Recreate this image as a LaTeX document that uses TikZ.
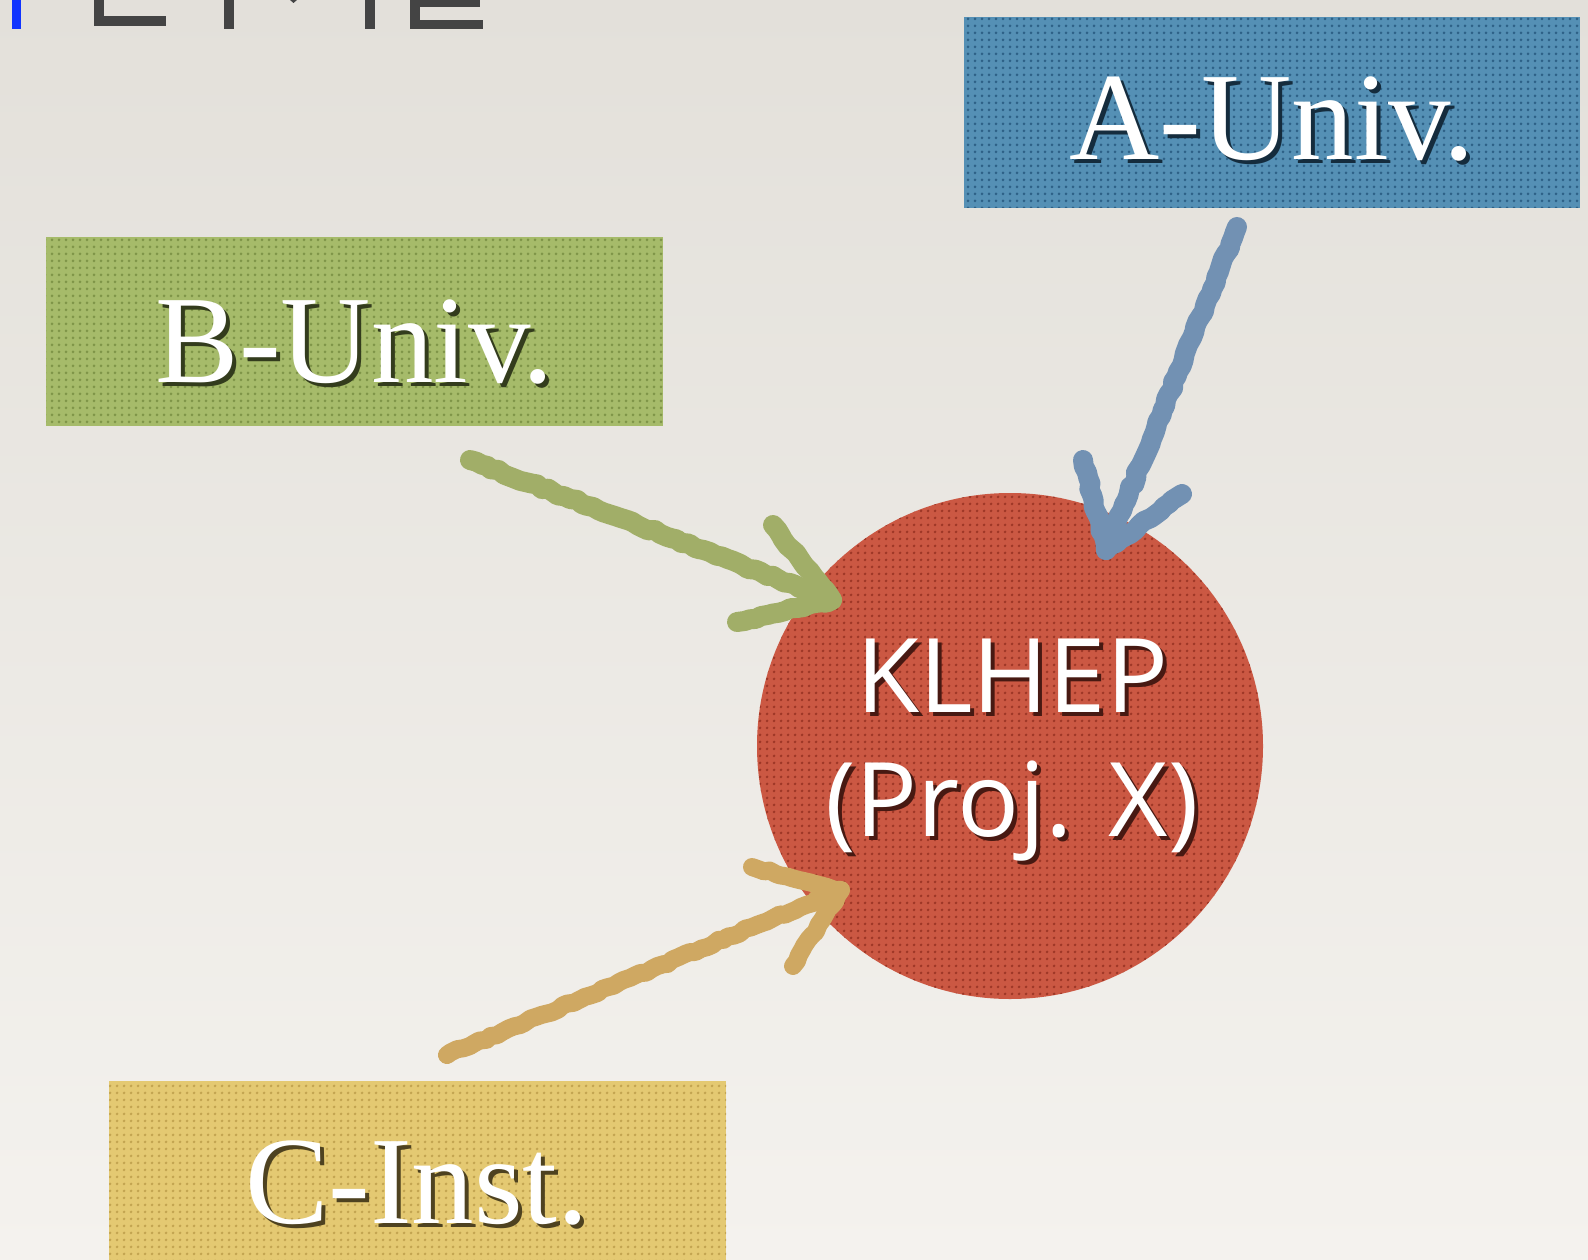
\documentclass[tikz,border=0pt]{standalone}
\usepackage{fontspec}
\setmainfont{Liberation Serif}
\newfontfamily\klfont{Open Sans}
\usetikzlibrary{patterns.meta,decorations.pathmorphing}
\definecolor{bgtop}{HTML}{E3E0DA}
\definecolor{bgbot}{HTML}{F4F2EE}
\definecolor{aFill}{HTML}{5590B5}
\definecolor{aDot}{HTML}{2E6187}
\definecolor{bFill}{HTML}{A6BB6A}
\definecolor{bDot}{HTML}{7F9548}
\definecolor{cFill}{HTML}{E4C972}
\definecolor{cDot}{HTML}{C2A450}
\definecolor{kFill}{HTML}{CB5843}
\definecolor{kDot}{HTML}{9E3727}
\definecolor{aArrow}{HTML}{7291B3}
\definecolor{bArrow}{HTML}{A1AE68}
\definecolor{cArrow}{HTML}{CFA862}
\definecolor{fragGray}{HTML}{444444}
\definecolor{fragBlue}{HTML}{1034FF}
\newcommand{\shadowtext}[2]{\rlap{\hspace{4pt}\raisebox{-4pt}{\color{#1}#2}}#2}
\tikzset{
  ubox/.style={rectangle, inner sep=0pt, outer sep=0pt, draw=none},
  dotfill/.style={pattern={Dots[distance=6.5pt,radius=1.6pt]}, pattern color=#1},
  lbl/.style={anchor=base, inner sep=0pt, text=white, font=\fontsize{125}{125}\selectfont},
  klbl/.style={anchor=base, inner sep=0pt, text=white, font=\klfont\fontsize{103}{103}\selectfont},
  chalk/.style={draw=#1, line width=20pt, line cap=round, line join=round,
    decorate, decoration={random steps, segment length=6pt, amplitude=1.5pt}},
}
\begin{document}
\begin{tikzpicture}[x=1pt,y=-1pt]
\useasboundingbox (0,0) rectangle (1588,1260);
\shade[top color=bgtop, bottom color=bgbot] (0,0) rectangle (1588,1260);

% clipped title fragments at top
\fill[fragBlue] (12,0) rectangle (21,29);
\fill[fragGray] (94,0) rectangle (104,26);
\fill[fragGray] (94,16) rectangle (166,26);
\fill[fragGray] (224,0) rectangle (234,29);
\fill[fragGray] (290,0) -- (297,0) -- (293.5,3) -- cycle;
\fill[fragGray] (365,0) rectangle (375,29);
\fill[fragGray] (410,0) rectangle (420,29);
\fill[fragGray] (410,0) rectangle (480,7);
\fill[fragGray] (410,20) rectangle (483,29);

% boxes
\node[ubox, fill=aFill, minimum width=616pt, minimum height=191pt] (abox) at (1272,112.5) {};
\fill[dotfill=aDot] (abox.south west) rectangle (abox.north east);
\node[ubox, fill=bFill, minimum width=617pt, minimum height=189pt] (bbox) at (354.5,331.5) {};
\fill[dotfill=bDot] (bbox.south west) rectangle (bbox.north east);
\node[ubox, fill=cFill, minimum width=617pt, minimum height=179pt] (cbox) at (417.5,1170.5) {};
\fill[dotfill=cDot] (cbox.south west) rectangle (cbox.north east);

% circle
\node[circle, inner sep=0pt, outer sep=0pt, fill=kFill, minimum size=506pt] (klhep) at (1010,746) {};
\fill[dotfill=kDot] (klhep.center) circle[radius=253];

% box labels
\node[lbl] (atext) at (1272,160) {\shadowtext{aDot!45!black}{A-Univ.}};
\node[lbl] (btext) at (355,382) {\shadowtext{bDot!40!black}{B-Univ.}};
\node[lbl] (ctext) at (417,1223) {\shadowtext{cDot!40!black}{C-Inst.}};

% circle labels
\node[klbl] (k1text) at (1012,712) {\shadowtext{kDot!45!black}{KLHEP}};
\node[klbl] (k2text) at (1012,836) {\shadowtext{kDot!45!black}{(Proj. X)}};

% arrow coordinates
\coordinate (aStart) at (1237,227);
\coordinate (aTip) at (1106,550);
\coordinate (aArmL) at (1083,460);
\coordinate (aArmR) at (1182,494);
\coordinate (bStart) at (470,460);
\coordinate (bTip) at (832,600);
\coordinate (bArmU) at (773,525);
\coordinate (bArmL) at (737,622);
\coordinate (cStart) at (447,1055);
\coordinate (cTip) at (841,890);
\coordinate (cArmU) at (752,867);
\coordinate (cArmL) at (793,966);

% arrows
\draw[chalk=aArrow] (aStart) -- (aTip);
\draw[chalk=aArrow] (aArmL) -- (aTip) -- (aArmR);
\draw[chalk=bArrow] (bStart) -- (bTip);
\draw[chalk=bArrow] (bArmU) -- (bTip) -- (bArmL);
\draw[chalk=cArrow, line width=18pt] (cStart) -- (cTip);
\draw[chalk=cArrow, line width=18pt] (cArmU) -- (cTip) -- (cArmL);
\end{tikzpicture}
\end{document}
